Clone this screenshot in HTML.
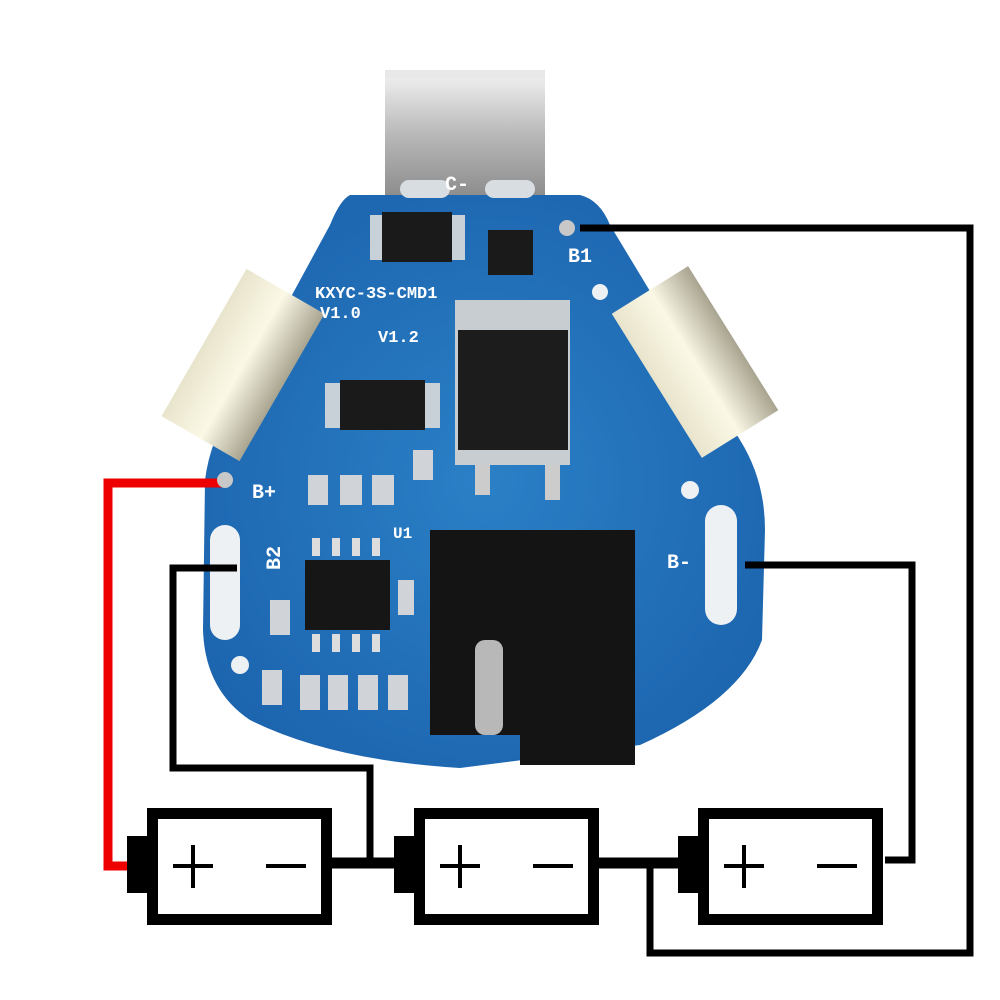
<!DOCTYPE html>
<html><head><meta charset="utf-8"><style>html,body{margin:0;padding:0;background:#fff}svg{display:block}</style></head>
<body>
<svg width="1000" height="1000" viewBox="0 0 1000 1000" xmlns="http://www.w3.org/2000/svg">
<defs>
<linearGradient id="met" x1="0" y1="0" x2="0" y2="1"><stop offset="0" stop-color="#f4f4f4"/><stop offset="0.5" stop-color="#b8b8b8"/><stop offset="1" stop-color="#8a8a8a"/></linearGradient>
<linearGradient id="met2" x1="0" y1="0" x2="1" y2="0"><stop offset="0" stop-color="#e8e4cc"/><stop offset="0.5" stop-color="#fbf8e6"/><stop offset="1" stop-color="#a8a490"/></linearGradient>
<radialGradient id="blu" cx="0.5" cy="0.5" r="0.6"><stop offset="0" stop-color="#2a80c6"/><stop offset="1" stop-color="#1c64ae"/></radialGradient>
</defs>
<rect x="385" y="70" width="160" height="130" fill="url(#met)"/>
<rect x="385" y="70" width="160" height="8" fill="#e8e8e8"/>
<path d="M350,195 L580,195 Q600,200 610,225 L740,440 Q765,480 765,530 L762,640 Q740,700 640,745 L460,768 Q330,760 250,720 Q205,690 203,630 L205,480 Q210,440 235,400 L330,225 Q340,200 350,195 Z" fill="url(#blu)"/>
<rect x="400" y="180" width="50" height="18" rx="9" fill="#d8dde2"/>
<rect x="485" y="180" width="50" height="18" rx="9" fill="#d8dde2"/>
<g transform="translate(243,365) rotate(30)"><rect x="-45" y="-85" width="90" height="170" fill="url(#met2)"/></g>
<g transform="translate(695,362) rotate(-32)"><rect x="-45" y="-85" width="90" height="170" fill="url(#met2)"/></g>
<rect x="210" y="525" width="30" height="115" rx="15" fill="#eef1f4"/>
<rect x="705" y="505" width="32" height="120" rx="16" fill="#eef1f4"/>
<circle cx="690" cy="490" r="9" fill="#eef1f4"/>
<circle cx="240" cy="665" r="9" fill="#eef1f4"/>
<circle cx="600" cy="292" r="8" fill="#eef1f4"/>
<rect x="370" y="215" width="95" height="45" fill="#c8d0d8"/><rect x="382" y="212" width="70" height="50" fill="#1a1a1a"/>
<rect x="488" y="230" width="45" height="45" fill="#1a1a1a"/>
<rect x="325" y="383" width="115" height="45" fill="#c8d0d8"/><rect x="340" y="380" width="85" height="50" fill="#1a1a1a"/>
<rect x="455" y="300" width="115" height="165" fill="#c8cdd2"/><rect x="458" y="330" width="110" height="120" fill="#1c1c1c"/>
<rect x="475" y="465" width="15" height="30" fill="#ccc"/><rect x="545" y="465" width="15" height="35" fill="#ccc"/>
<rect x="305" y="560" width="85" height="70" fill="#161616"/>
<g fill="#ddd"><rect x="312" y="538" width="8" height="18"/><rect x="332" y="538" width="8" height="18"/><rect x="352" y="538" width="8" height="18"/><rect x="372" y="538" width="8" height="18"/>
<rect x="312" y="634" width="8" height="18"/><rect x="332" y="634" width="8" height="18"/><rect x="352" y="634" width="8" height="18"/><rect x="372" y="634" width="8" height="18"/></g>
<g fill="#d0d4d8"><rect x="308" y="475" width="20" height="30"/><rect x="340" y="475" width="22" height="30"/><rect x="372" y="475" width="22" height="30"/><rect x="413" y="450" width="20" height="30"/><rect x="398" y="580" width="16" height="35"/><rect x="270" y="600" width="20" height="35"/><rect x="262" y="670" width="20" height="35"/><rect x="300" y="675" width="20" height="35"/><rect x="328" y="675" width="20" height="35"/><rect x="358" y="675" width="20" height="35"/><rect x="388" y="675" width="20" height="35"/></g>
<rect x="430" y="530" width="205" height="205" fill="#141414"/>
<rect x="520" y="690" width="115" height="75" fill="#141414"/>
<rect x="475" y="640" width="28" height="95" rx="10" fill="#b8b8b8"/>
<g font-family="Liberation Mono, monospace" fill="#fff" font-size="20" font-weight="bold">
<text x="445" y="190">C-</text><text x="568" y="262">B1</text><text x="315" y="298" font-size="17">KXYC-3S-CMD1</text>
<text x="320" y="318" font-size="17">V1.0</text><text x="378" y="342" font-size="17">V1.2</text>
<text x="252" y="498">B+</text><text x="667" y="568">B-</text>
<text x="393" y="538" font-size="16">U1</text><text x="280" y="570" transform="rotate(-90 280 570)">B2</text>
</g>
<g fill="none" stroke-linejoin="miter" stroke-linecap="butt">
<path d="M222,483 L108,483 L108,866 L132,866" stroke="#e00" stroke-width="9"/>
<path d="M237,568 L173,568 L173,768 L370,768 L370,862" stroke="#000" stroke-width="7"/>
<path d="M745,565 L912,565 L912,860 L885,860" stroke="#000" stroke-width="7"/>
<path d="M580,228 L970,228 L970,953 L650,953 L650,862" stroke="#000" stroke-width="7"/>
<path d="M330,863 L410,863 M597,863 L690,863" stroke="#000" stroke-width="11"/>
</g>
<circle cx="225" cy="480" r="8" fill="#c8c8c8"/><circle cx="567" cy="228" r="8" fill="#c8c8c8"/>
<g>
<rect x="152.5" y="813.5" width="174" height="106" fill="#fff" stroke="#000" stroke-width="11"/><rect x="127" y="836" width="24" height="57" fill="#000"/>
<rect x="419.5" y="813.5" width="174" height="106" fill="#fff" stroke="#000" stroke-width="11"/><rect x="394" y="836" width="24" height="57" fill="#000"/>
<rect x="703.5" y="813.5" width="174" height="106" fill="#fff" stroke="#000" stroke-width="11"/><rect x="678" y="836" width="24" height="57" fill="#000"/>
</g>
<g stroke="#000" stroke-width="4">
<path d="M173,866 L213,866 M193,845 L193,888 M266,866 L306,866"/>
<path d="M440,866 L480,866 M460,845 L460,888 M533,866 L573,866"/>
<path d="M724,866 L764,866 M744,845 L744,888 M817,866 L857,866"/>
</g>
</svg>
</body></html>
